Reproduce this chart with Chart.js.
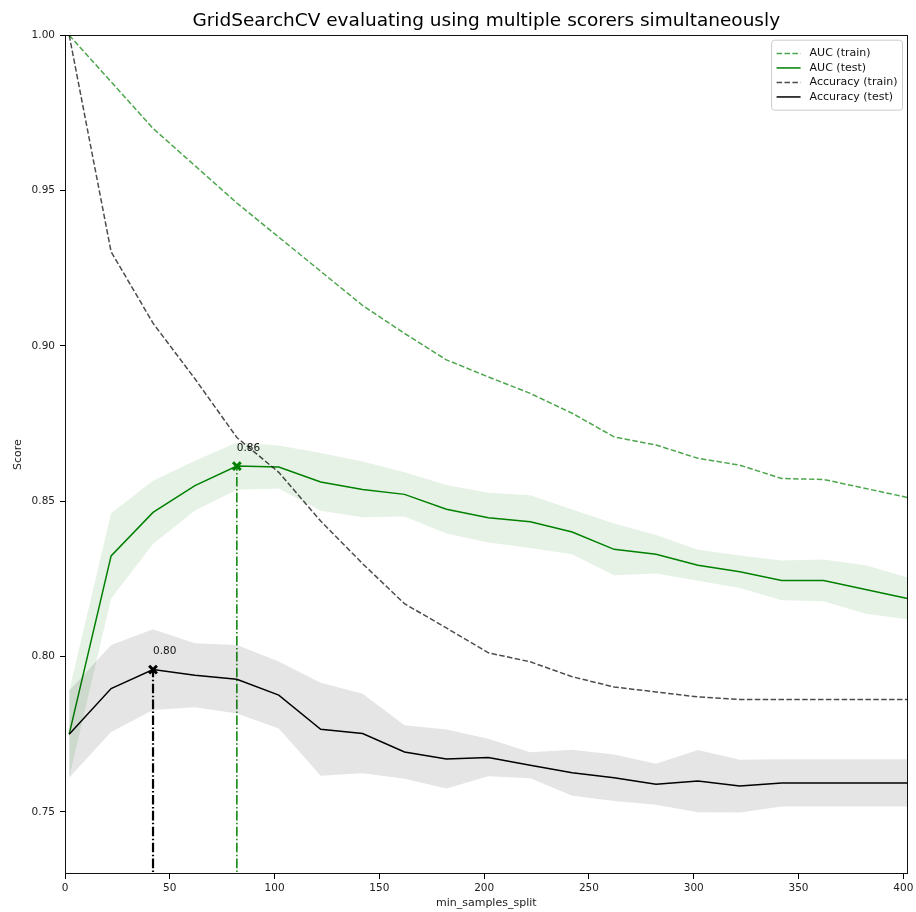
<!DOCTYPE html>
<html>
<head>
<meta charset="utf-8">
<title>GridSearchCV multi-metric scores</title>
<script src="https://cdn.jsdelivr.net/npm/chart.js@4.4.1/dist/chart.umd.min.js"></script>
<style>
  html, body { margin: 0; padding: 0; background: #fff; }
  canvas { display: block; }
</style>
</head>
<body>
<canvas id="chart" width="916" height="912"></canvas>
<script>
// min_samples_split grid and mean/std scores per scorer
const xValues = [2, 22, 42, 62, 82, 102, 122, 142, 162, 182, 202, 222, 242, 262, 282, 302, 322, 342, 362, 382, 402];

const aucTrain = [1.000, 0.985, 0.970, 0.958, 0.946, 0.935, 0.924, 0.913, 0.904, 0.8955, 0.890,
  0.8847, 0.8783, 0.8707, 0.8681, 0.8638, 0.8616, 0.8573, 0.8570, 0.8541, 0.8512];
const aucTestMean = [0.775, 0.8324, 0.8464, 0.8550, 0.8613, 0.8610, 0.8562, 0.8538, 0.8522, 0.8474, 0.8447,
  0.8434, 0.8401, 0.8345, 0.8329, 0.8294, 0.8273, 0.8245, 0.8245, 0.8216, 0.8187];
const aucTestStd = [0.014, 0.0137, 0.0102, 0.0080, 0.0076, 0.0069, 0.0093, 0.0090, 0.0071, 0.0078, 0.0080,
  0.0085, 0.0072, 0.0083, 0.0062, 0.0050, 0.0052, 0.0064, 0.0067, 0.0078, 0.0067];

const accTrain = [1.000, 0.9303, 0.9073, 0.8894, 0.8705, 0.8593, 0.8436, 0.8299, 0.8170, 0.8092, 0.8012,
  0.7983, 0.7935, 0.7902, 0.7886, 0.7870, 0.7862, 0.7862, 0.7862, 0.7862, 0.7862];
const accTestMean = [0.775, 0.7897, 0.7958, 0.7940, 0.7927, 0.7876, 0.7766, 0.7752, 0.7693, 0.7670, 0.7675,
  0.7650, 0.7626, 0.7610, 0.7589, 0.7599, 0.7583, 0.7593, 0.7593, 0.7593, 0.7593];
const accTestStd = [0.014, 0.014, 0.013, 0.0103, 0.011, 0.0108, 0.015, 0.0128, 0.0086, 0.0095, 0.006,
  0.0042, 0.0074, 0.0075, 0.0066, 0.010, 0.0085, 0.0076, 0.0076, 0.0076, 0.0076];

const xTicks = [0, 50, 100, 150, 200, 250, 300, 350, 400];
const yTicks = [0.75, 0.80, 0.85, 0.90, 0.95, 1.00];

const GREEN = '#008000';
const BLACK = '#000000';
const DASHED = [5.5, 2.4];
const DASHDOT = [9.6, 2.4, 1.5, 2.4];

Chart.defaults.font.family = "'DejaVu Sans', sans-serif";
Chart.defaults.font.size = 10.5;
Chart.defaults.color = '#222';

const pts = ys => xValues.map((x, i) => ({ x, y: ys[i] }));
const band = (mean, std, sign) => xValues.map((x, i) => ({ x, y: mean[i] + sign * std[i] }));
const argmax = a => a.reduce((best, v, i) => (v > a[best] ? i : best), 0);

const bestAuc = argmax(aucTestMean);
const bestAcc = argmax(accTestMean);

const noLine = { borderWidth: 0, borderColor: 'rgba(0,0,0,0)', pointRadius: 0, fill: false };

const datasets = [
  { label: 'AUC (train)', data: pts(aucTrain), borderColor: 'rgba(0,128,0,0.7)', borderDash: DASHED,
    borderWidth: 1.5, pointRadius: 0, fill: false, order: 90 },
  { label: '', data: band(aucTestMean, aucTestStd, -1), ...noLine, order: 81 },
  { label: '', data: band(aucTestMean, aucTestStd, 1), ...noLine, fill: 1,
    backgroundColor: 'rgba(0,128,0,0.1)', order: 80 },
  { label: 'AUC (test)', data: pts(aucTestMean), borderColor: GREEN, borderWidth: 1.5,
    pointRadius: 0, fill: false, order: 70 },
  { label: '', data: [{ x: xValues[bestAuc], y: 0 }, { x: xValues[bestAuc], y: aucTestMean[bestAuc] }],
    borderColor: GREEN, borderDash: DASHDOT, borderWidth: 1.5, fill: false,
    pointStyle: 'crossRot', pointRadius: [0, 5.5], pointBorderWidth: 3, pointBorderColor: GREEN, order: 60 },

  { label: 'Accuracy (train)', data: pts(accTrain), borderColor: 'rgba(0,0,0,0.7)', borderDash: DASHED,
    borderWidth: 1.5, pointRadius: 0, fill: false, order: 50 },
  { label: '', data: band(accTestMean, accTestStd, -1), ...noLine, order: 41 },
  { label: '', data: band(accTestMean, accTestStd, 1), ...noLine, fill: 6,
    backgroundColor: 'rgba(0,0,0,0.1)', order: 40 },
  { label: 'Accuracy (test)', data: pts(accTestMean), borderColor: BLACK, borderWidth: 1.5,
    pointRadius: 0, fill: false, order: 30 },
  { label: '', data: [{ x: xValues[bestAcc], y: 0 }, { x: xValues[bestAcc], y: accTestMean[bestAcc] }],
    borderColor: BLACK, borderDash: DASHDOT, borderWidth: 2.2, fill: false,
    pointStyle: 'crossRot', pointRadius: [0, 5.5], pointBorderWidth: 3, pointBorderColor: BLACK, order: 20 }
];

// spines, best-score labels and the legend box
const decorations = {
  id: 'decorations',
  afterDatasetsDraw(chart) {
    const { ctx, chartArea: a, scales: { x, y } } = chart;
    ctx.save();
    ctx.strokeStyle = '#111';
    ctx.lineWidth = 1;
    ctx.strokeRect(Math.round(a.left) + 0.5, Math.round(a.top) + 0.5,
      Math.round(a.right - a.left) - 1, Math.round(a.bottom - a.top) - 1);

    ctx.fillStyle = '#111';
    ctx.font = "10.5px 'DejaVu Sans'";
    ctx.textAlign = 'left';
    ctx.textBaseline = 'alphabetic';
    [[bestAuc, aucTestMean], [bestAcc, accTestMean]].forEach(([i, arr]) => {
      ctx.fillText(arr[i].toFixed(2), x.getPixelForValue(xValues[i]), y.getPixelForValue(arr[i] + 0.005));
    });
    ctx.restore();
  },
  afterDraw(chart) {
    const { ctx, chartArea: a } = chart;
    const items = chart.data.datasets.filter(d => d.label);
    const rowH = 14.5, padX = 5, padY = 6, handle = 24, gap = 9;
    ctx.save();
    ctx.font = "11px 'DejaVu Sans'";
    const textW = Math.max(...items.map(d => ctx.measureText(d.label).width));
    const w = padX + handle + gap + textW + padX;
    const h = padY * 2 + rowH * items.length;
    const right = a.right - 5, top = a.top + 5, left = right - w;

    ctx.beginPath();
    ctx.roundRect(left, top, w, h, 3);
    ctx.fillStyle = 'rgba(255,255,255,0.8)';
    ctx.fill();
    ctx.strokeStyle = '#cccccc';
    ctx.lineWidth = 1;
    ctx.stroke();

    items.forEach((d, k) => {
      const cy = top + padY + rowH * k + rowH / 2;
      ctx.beginPath();
      ctx.setLineDash(d.borderDash || []);
      ctx.strokeStyle = d.borderColor;
      ctx.lineWidth = d.borderWidth;
      ctx.moveTo(left + padX, cy);
      ctx.lineTo(left + padX + handle, cy);
      ctx.stroke();
      ctx.setLineDash([]);
      ctx.fillStyle = '#111';
      ctx.textAlign = 'left';
      ctx.textBaseline = 'middle';
      ctx.fillText(d.label, left + padX + handle + gap, cy);
    });
    ctx.restore();
  }
};

new Chart(document.getElementById('chart'), {
  type: 'line',
  data: { datasets },
  options: {
    responsive: false,
    animation: false,
    events: [],
    layout: { padding: { left: 0, right: 6, top: 0, bottom: 0 } },
    plugins: {
      legend: { display: false },
      tooltip: { enabled: false },
      title: {
        display: true,
        fullSize: false,
        text: 'GridSearchCV evaluating using multiple scorers simultaneously',
        color: '#000',
        font: { size: 18.5, weight: 'normal' },
        padding: { top: 10, bottom: 3 }
      }
    },
    scales: {
      x: {
        type: 'linear',
        min: 0,
        max: 402,
        afterBuildTicks: s => { s.ticks = xTicks.map(v => ({ value: v })); },
        afterFit: s => { s.height = 38; s.paddingLeft = 0; s.paddingRight = 0; },
        ticks: { padding: 3, maxRotation: 0, autoSkip: false, color: '#222', callback: v => String(v) },
        grid: { drawOnChartArea: false, drawTicks: true, tickLength: 5, tickColor: '#000' },
        border: { display: false },
        title: { display: true, text: 'min_samples_split', color: '#222', font: { size: 11 },
          padding: { top: 0, bottom: 2 } }
      },
      y: {
        type: 'linear',
        min: 0.73,
        max: 1.0,
        afterBuildTicks: s => { s.ticks = yTicks.map(v => ({ value: v })); },
        afterFit: s => { s.width = 65; s.paddingTop = 0; s.paddingBottom = 0; },
        ticks: { padding: 5, autoSkip: false, color: '#222', callback: v => v.toFixed(2) },
        grid: { drawOnChartArea: false, drawTicks: true, tickLength: 5, tickColor: '#000' },
        border: { display: false },
        title: { display: true, text: 'Score', color: '#222', font: { size: 11 },
          padding: { top: 12, bottom: 0 } }
      }
    }
  },
  plugins: [decorations]
});
</script>
</body>
</html>
